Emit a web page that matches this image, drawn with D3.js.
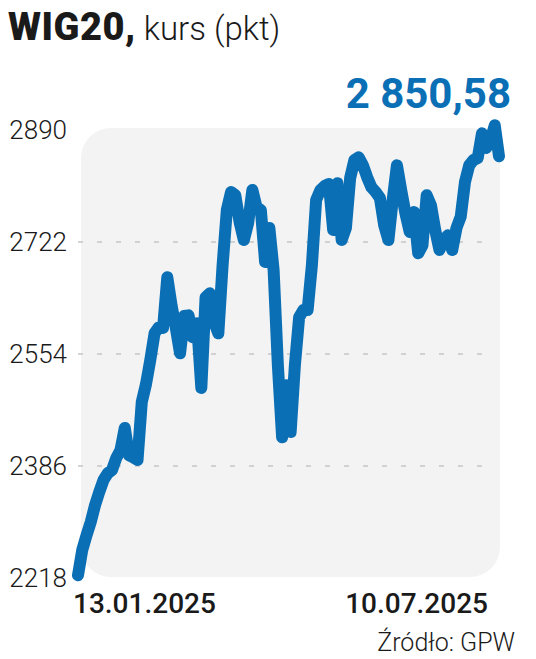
<!DOCTYPE html>
<html>
<head>
<meta charset="utf-8">
<script src="https://cdn.jsdelivr.net/npm/d3@7"></script>
<style>
  body { margin: 0; background: #fff; }
  svg { display: block; font-family: Roboto, "Open Sans", sans-serif; }
</style>
</head>
<body>
<div id="chart"></div>
<script>
// WIG20 closing values, one per session
const values = [
  2222, 2260, 2282, 2302, 2327, 2347, 2365, 2375, 2380, 2398,
  2410, 2443, 2402, 2399, 2395, 2482, 2509, 2545, 2585, 2594,
  2593, 2669, 2627, 2593, 2555, 2611, 2612, 2579, 2600, 2503,
  2639, 2645, 2602, 2585, 2687, 2770, 2797, 2792, 2752, 2725,
  2750, 2800, 2774, 2770, 2692, 2743, 2680, 2537, 2429, 2507,
  2437, 2537, 2609, 2620, 2620, 2687, 2785, 2800, 2806, 2809,
  2740, 2810, 2725, 2743, 2818, 2845, 2849, 2837, 2819, 2804,
  2797, 2788, 2747, 2725, 2785, 2837, 2800, 2765, 2737, 2767,
  2705, 2717, 2792, 2777, 2740, 2710, 2725, 2732, 2710, 2743,
  2760, 2812, 2837, 2845, 2848, 2885, 2863, 2875, 2897, 2850.58
];
const yTicks = [2218, 2386, 2554, 2722, 2890];
const dateLabels = ["13.01.2025", "10.07.2025"];
const lastLabel = "2 850,58";

const width = 536, height = 659;
const blue = "#0b6fb6";

const svg = d3.select("#chart")
  .append("svg")
  .attr("width", width)
  .attr("height", height);

const x = d3.scaleLinear().domain([0, values.length - 1]).range([78, 499]);
const y = d3.scaleLinear().domain([yTicks[0], yTicks[yTicks.length - 1]]).range([578, 130]);

//grey panel behind the line
svg.append("rect")
  .attr("x", 81)
  .attr("y", y(yTicks[yTicks.length - 1]) - 2)
  .attr("width", 500 - 81)
  .attr("height", y(yTicks[0]) - y(yTicks[yTicks.length - 1]) + 1)
  .attr("rx", 30)
  .attr("fill", "#f3f3f3");

//dashed grid, inner ticks only
svg.selectAll(".grid")
  .data(yTicks.slice(1, -1))
  .enter()
  .append("line")
  .attr("class", "grid")
  .attr("x1", 78)
  .attr("x2", 496)
  .attr("y1", (d) => y(d))
  .attr("y2", (d) => y(d))
  .attr("stroke", "#c6c6c6")
  .attr("stroke-width", 1.5)
  .attr("stroke-dasharray", "5,14");

//y labels
svg.selectAll(".ylab")
  .data(yTicks)
  .enter()
  .append("text")
  .attr("class", "ylab")
  .attr("x", 67)
  .attr("y", (d) => y(d))
  .attr("dy", "0.36em")
  .attr("text-anchor", "end")
  .attr("font-size", 26)
  .attr("font-weight", 300)
  .attr("fill", "#1a1a1a")
  .text((d) => d);

//the line
const line = d3.line()
  .x((d, i) => x(i))
  .y((d) => y(d))
  .curve(d3.curveLinear);

svg.append("path")
  .datum(values)
  .attr("d", line)
  .attr("fill", "none")
  .attr("stroke", blue)
  .attr("stroke-width", 12)
  .attr("stroke-linejoin", "round")
  .attr("stroke-linecap", "round");

//date labels under both ends
svg.append("text")
  .attr("x", x(0) - 5)
  .attr("y", 613)
  .attr("text-anchor", "start")
  .attr("font-size", 28)
  .attr("font-weight", 500)
  .attr("fill", "#1a1a1a")
  .text(dateLabels[0]);

svg.append("text")
  .attr("x", x(values.length - 1) - 11)
  .attr("y", 613)
  .attr("text-anchor", "end")
  .attr("font-size", 28)
  .attr("font-weight", 500)
  .attr("fill", "#1a1a1a")
  .text(dateLabels[1]);

//title
const title = svg.append("text")
  .attr("x", 8)
  .attr("y", 40)
  .attr("fill", "#1a1a1a");
title.append("tspan")
  .attr("font-size", 38)
  .attr("font-weight", 900)
  .attr("letter-spacing", 0.5)
  .text("WIG20,");
title.append("tspan")
  .attr("font-size", 33)
  .attr("font-weight", 300)
  .text(" kurs (pkt)");

//last value
svg.append("text")
  .attr("x", 511)
  .attr("y", 108)
  .attr("text-anchor", "end")
  .attr("font-size", 42)
  .attr("font-weight", 700)
  .attr("fill", blue)
  .text(lastLabel);

//source
svg.append("text")
  .attr("x", 515)
  .attr("y", 651)
  .attr("text-anchor", "end")
  .attr("font-size", 25)
  .attr("font-weight", 300)
  .attr("fill", "#1a1a1a")
  .text("Źródło: GPW");
</script>
</body>
</html>
